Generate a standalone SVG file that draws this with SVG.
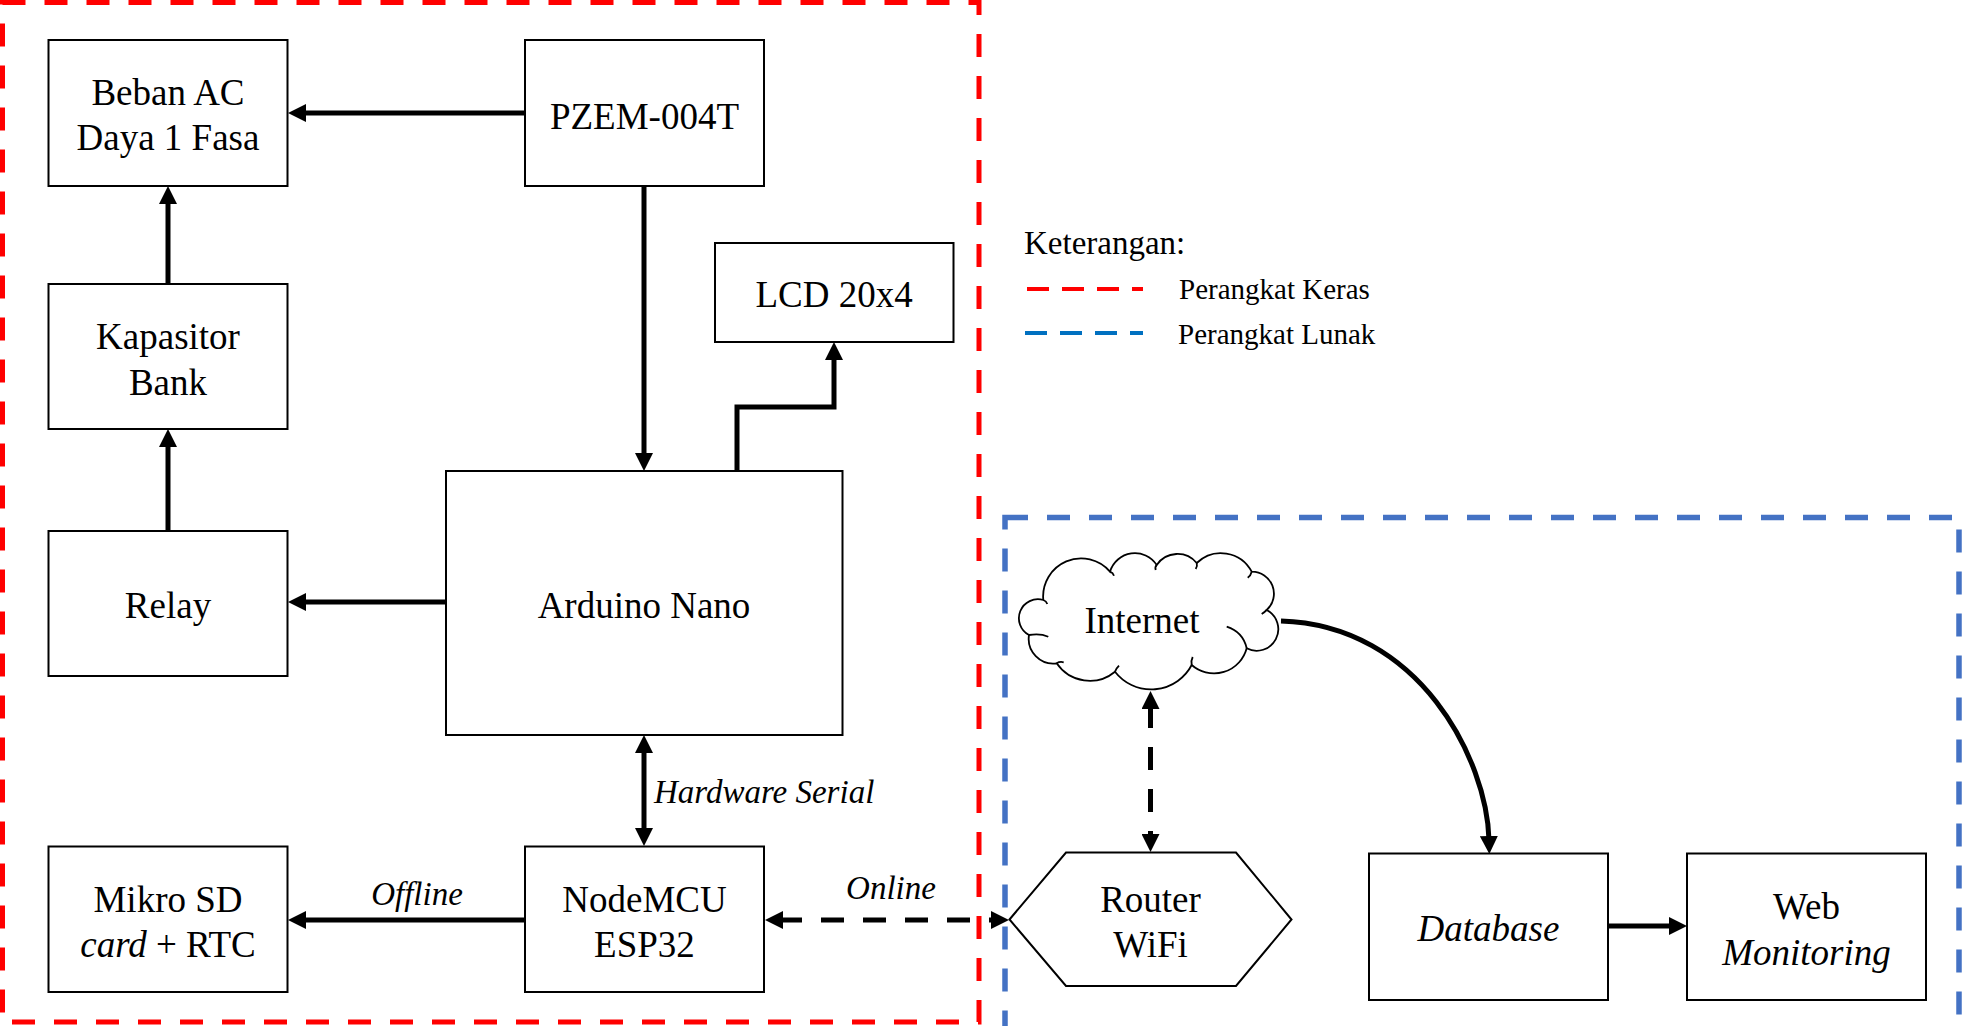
<svg xmlns="http://www.w3.org/2000/svg" width="1963" height="1026" viewBox="0 0 1963 1026">
<style>
.box{fill:#fff;stroke:#000;stroke-width:2}
.t{font-family:"Liberation Serif","Times New Roman",serif;font-size:37px;fill:#000;text-anchor:middle}
.lbl{font-family:"Liberation Serif","Times New Roman",serif;font-size:33px;fill:#000;font-style:italic}
.leg{font-family:"Liberation Serif","Times New Roman",serif;font-size:29px;fill:#000}
.i{font-style:italic}
.c{fill:none;stroke:#000;stroke-width:5}
.cd{fill:none;stroke:#000;stroke-width:5;stroke-dasharray:23 19}
.arr{marker-end:url(#ah)}
.arr2{marker-start:url(#ah);marker-end:url(#ah)}
</style>
<defs>
<marker id="ah" markerUnits="userSpaceOnUse" markerWidth="18" markerHeight="18" refX="4" refY="9" orient="auto-start-reverse">
<path d="M0,0 L18,9 L0,18 z" fill="#000"/>
</marker>
</defs>
<rect width="1963" height="1026" fill="#fff"/>

<g id="group-hardware">
<rect x="2.5" y="2.5" width="976.5" height="1019.5" fill="none" stroke="#FF0000" stroke-width="5" stroke-dasharray="23 19"/>
</g>
<g id="group-software">
<rect x="1005" y="517.5" width="954" height="1005" fill="none" stroke="#4472C4" stroke-width="5.5" stroke-dasharray="23 19"/>
</g>

<g id="legend">
<text class="leg" x="1024" y="253.5" style="font-size:33px">Keterangan:</text>
<line x1="1027" y1="289" x2="1143" y2="289" stroke="#FF0000" stroke-width="4" stroke-dasharray="22 13"/>
<text class="leg" x="1179" y="298.5">Perangkat Keras</text>
<line x1="1025" y1="333" x2="1143" y2="333" stroke="#0070C0" stroke-width="4" stroke-dasharray="22 13"/>
<text class="leg" x="1178" y="343.5">Perangkat Lunak</text>
</g>

<g id="connectors">
<path class="c arr" d="M525,113 H302"/>
<path class="c arr" d="M168,284 V200"/>
<path class="c arr" d="M168,531 V443"/>
<path class="c arr" d="M644,186 V457"/>
<path class="c arr" d="M737,471 V407 H834 V356"/>
<path class="c arr" d="M446,602 H302"/>
<path class="c arr2" d="M644,749 V832"/>
<path class="c arr" d="M525,920 H302"/>
<path class="cd arr2" d="M779,920 H995"/>
<path class="cd arr2" d="M1150.5,705 V838"/>
<path class="c arr" d="M1281,621 C1420,625 1487,760 1489,840"/>
<path class="c arr" d="M1608,926 H1673"/>
<text class="lbl" x="654" y="802.5">Hardware Serial</text>
<text class="lbl" x="417" y="905" text-anchor="middle">Offline</text>
<text class="lbl" x="891" y="898.5" text-anchor="middle">Online</text>
</g>

<g id="beban-ac">
<rect class="box" x="48.5" y="40" width="239" height="146"/>
<text class="t" x="168" y="105">Beban AC</text>
<text class="t" x="168" y="150">Daya 1 Fasa</text>
</g>
<g id="pzem">
<rect class="box" x="525" y="40" width="239" height="146"/>
<text class="t" x="644.5" y="128.5">PZEM-004T</text>
</g>
<g id="kapasitor">
<rect class="box" x="48.5" y="284" width="239" height="145"/>
<text class="t" x="168" y="348.5">Kapasitor</text>
<text class="t" x="168" y="394.5">Bank</text>
</g>
<g id="lcd">
<rect class="box" x="715" y="243" width="238.5" height="99"/>
<text class="t" x="834" y="306.5">LCD 20x4</text>
</g>
<g id="relay">
<rect class="box" x="48.5" y="531" width="239" height="145"/>
<text class="t" x="168" y="617.5">Relay</text>
</g>
<g id="arduino">
<rect class="box" x="446" y="471" width="396.5" height="264"/>
<text class="t" x="644" y="617.5">Arduino Nano</text>
</g>
<g id="mikrosd">
<rect class="box" x="48.5" y="846.5" width="239" height="145.5"/>
<text class="t" x="168" y="912">Mikro SD</text>
<text class="t" x="168" y="956.5"><tspan class="i">card</tspan> + RTC</text>
</g>
<g id="nodemcu">
<rect class="box" x="525" y="846.5" width="239" height="145.5"/>
<text class="t" x="644.5" y="912">NodeMCU</text>
<text class="t" x="644.5" y="956.5">ESP32</text>
</g>
<g id="internet">
<path d="M1043.3,600 A38,38 0 0 1 1110,571.7 A26,26 0 0 1 1156.7,565 A25,25 0 0 1 1196.7,563 A34.7,34.7 0 0 1 1251.7,571.7 A22,22 0 0 1 1266.7,610 A21.6,21.6 0 0 1 1246.7,648.3 A33.8,33.8 0 0 1 1191.7,665 A45.8,45.8 0 0 1 1115,671.7 A39.8,39.8 0 0 1 1056.7,663.3 A24.7,24.7 0 0 1 1029,635 A19,19 0 0 1 1043.3,600 Z" fill="#fff" stroke="#000" stroke-width="1.8"/>
<path d="M1029,635 Q1040,633 1048.3,636.7 M1043.3,600 q3,1 4,4 M1110,571.7 q3,1 4,4 M1156.7,565 q-2,2 -1,5 M1196.7,563 q1,3 -1,6 M1251.7,571.7 q-1,4 -4,6 M1266.7,610 q-2,2 -5,4 M1226.7,626.7 Q1243,632 1246.7,648.3 M1191.7,665 q-1,-4 1,-8 M1115,671.7 q1,-3 4,-6 M1056.7,663.3 q3,-2 7,-1" fill="none" stroke="#000" stroke-width="1.8"/>
<text class="t" x="1142" y="632.5">Internet</text>
</g>
<g id="router">
<polygon class="box" points="1009.5,919.5 1066,852.5 1236,852.5 1291.5,919.5 1236,986 1066,986"/>
<text class="t" x="1150.5" y="912">Router</text>
<text class="t" x="1150.5" y="957">WiFi</text>
</g>
<g id="database">
<rect class="box" x="1369" y="853.5" width="239" height="146.5"/>
<text class="t i" x="1488.5" y="941">Database</text>
</g>
<g id="web">
<rect class="box" x="1687" y="853.5" width="239" height="146.5"/>
<text class="t" x="1806.5" y="918.5">Web</text>
<text class="t i" x="1806.5" y="964.5">Monitoring</text>
</g>
</svg>
